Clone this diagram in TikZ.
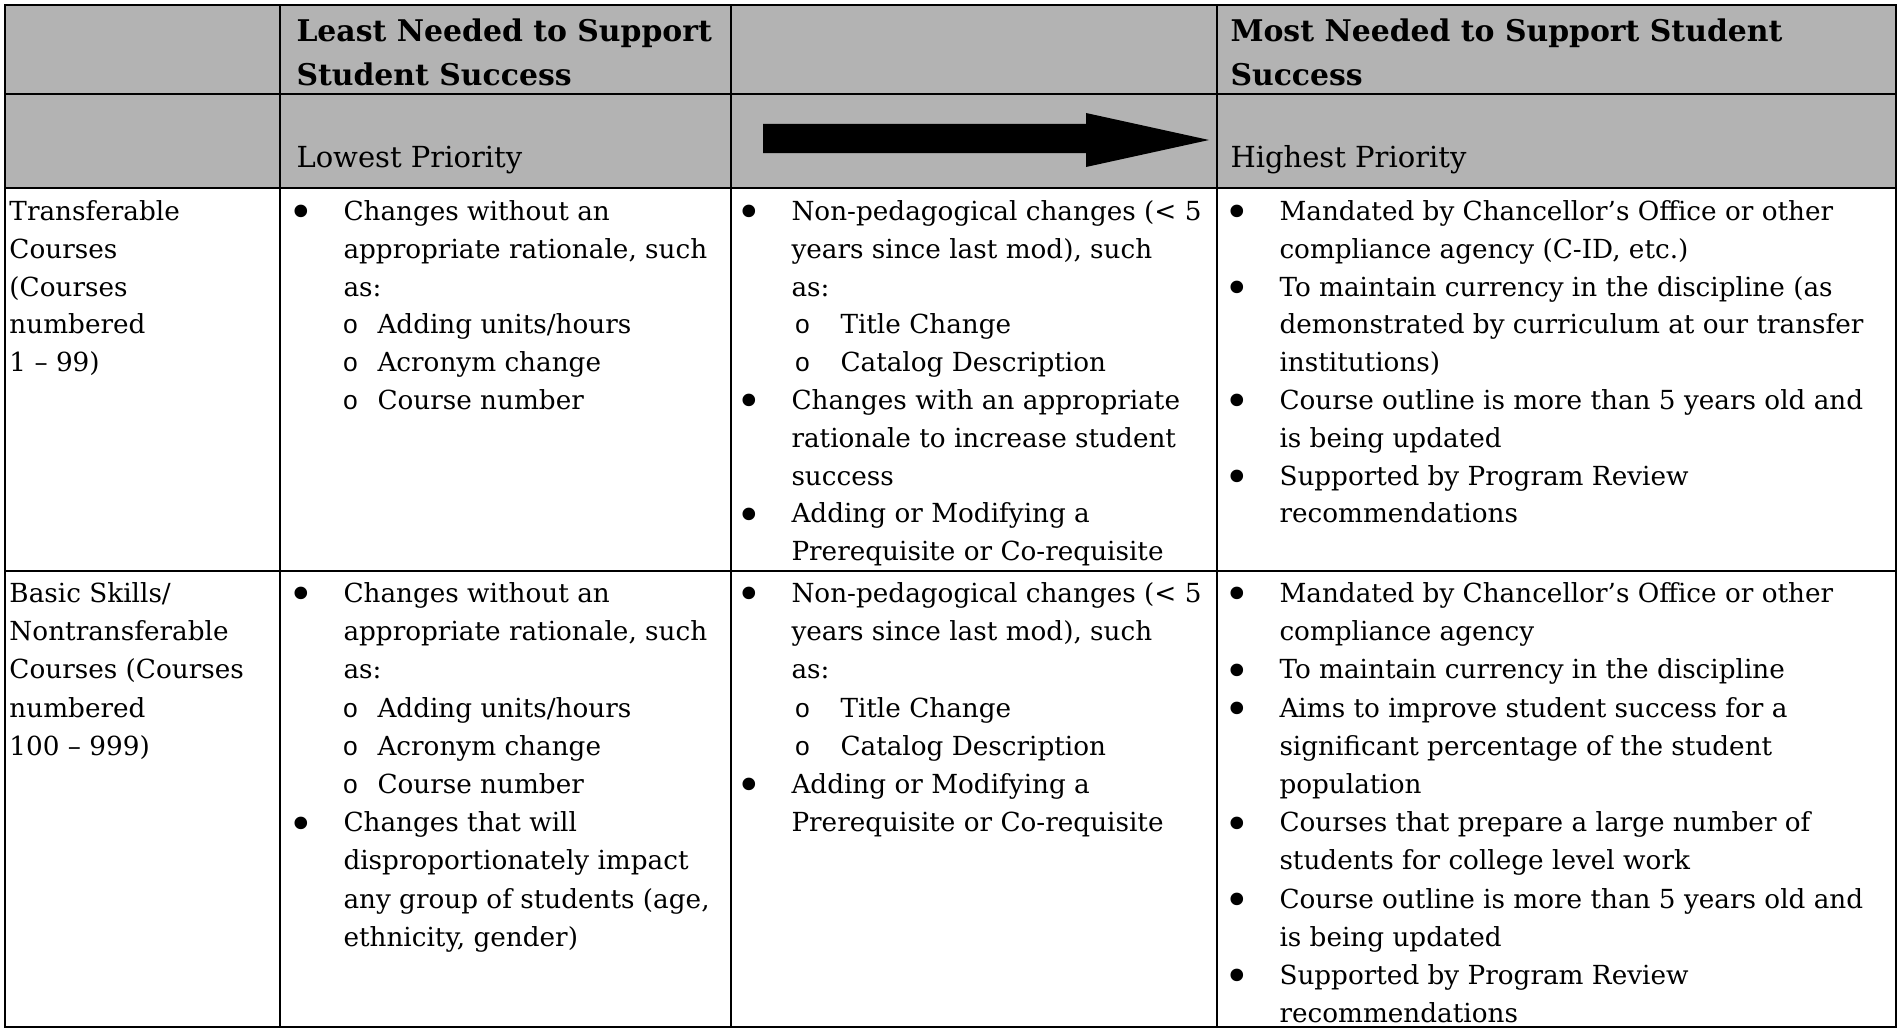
\documentclass[tikz,border=0pt]{standalone}
\usepackage{fontspec}
\setmainfont{DejaVu Serif}
\newfontfamily\circfont{Liberation Mono}
\usepackage{tikz}
\tikzset{every picture/.style={line width=0.75pt}}
\definecolor{hdrgray}{RGB}{179,179,179}
\tikzset{
  celltext/.style={anchor=north west, inner sep=0pt, align=left, font=\fontsize{19.7}{28.65}\selectfont},
  firstrow/.style={celltext, font=\fontsize{19.7}{28.35}\selectfont},
  headtext/.style={anchor=north west, inner sep=0pt, align=left, font=\fontsize{22.4}{33}\selectfont\bfseries},
  priotext/.style={anchor=base west, inner sep=0pt, font=\fontsize{21.75}{30}\selectfont},
  gridline/.style={line width=1.8pt},
}
% bullet hung 42px left of the text, and the two kinds of open-circle subitems
\newcommand{\bul}{\llap{\makebox[0pt]{\smash{\raisebox{-5.5pt}{\scalebox{1.65}{\textbullet}}}}\hspace{31.5pt}}}
\newcommand{\circii}{\makebox[25.5pt][l]{\hspace*{5.25pt}\makebox[0pt]{\circfont o}}}
\newcommand{\circiii}{\makebox[36.75pt][l]{\hspace*{8.25pt}\makebox[0pt]{\circfont o}}}

\begin{document}
\begin{tikzpicture}[x=0.75pt,y=0.75pt,yscale=-1,xscale=1]
\useasboundingbox (0,0) rectangle (1900,1031);

%Shape: Header band
\fill[hdrgray] (5,5) rectangle (1896,188);
%Shape: Grid
\draw[gridline] (5,5) rectangle (1896,1027);
\draw[gridline] (5,94) -- (1896,94);
\draw[gridline] (5,188) -- (1896,188);
\draw[gridline] (5,571) -- (1896,571);
\draw[gridline] (280,5) -- (280,1027);
\draw[gridline] (731,5) -- (731,1027);
\draw[gridline] (1217,5) -- (1217,1027);

%Shape: Priority arrow
\fill (763,124) -- (1086,124) -- (1086,113) -- (1209,140) -- (1086,167) -- (1086,153) -- (763,153) -- cycle;

% Text Node
\node (leastHead) [headtext] at (296,10.2) {\strut Least Needed to Support\\Student Success};
% Text Node
\node (mostHead) [headtext] at (1230,10.2) {\strut Most Needed to Support Student\\Success};
% Text Node
\node (lowPrio) [priotext] at (296,167) {Lowest Priority};
% Text Node
\node (highPrio) [priotext] at (1230,167) {Highest Priority};

% Text Node
\node (transName) [firstrow] at (9,193.5) {\strut Transferable\\Courses\\(Courses\\numbered\\1 -- 99)};
% Text Node
\node (transLeast) [firstrow] at (343,193.5) {\strut\bul Changes without an\\appropriate rationale, such\\as:\\\circii Adding units/hours\\\circii Acronym change\\\circii Course number};
% Text Node
\node (transMid) [firstrow] at (791,193.5) {\strut\bul Non-pedagogical changes (< 5\\years since last mod), such\\as:\\\circiii Title Change\\\circiii Catalog Description\\\bul Changes with an appropriate\\rationale to increase student\\success\\\bul Adding or Modifying a\\Prerequisite or Co-requisite};
% Text Node
\node (transMost) [firstrow] at (1279,193.5) {\strut\bul Mandated by Chancellor's Office or other\\compliance agency (C-ID, etc.)\\\bul To maintain currency in the discipline (as\\demonstrated by curriculum at our transfer\\institutions)\\\bul Course outline is more than 5 years old and\\is being updated\\\bul Supported by Program Review\\recommendations};

% Text Node
\node (basicName) [celltext] at (9,575.3) {\strut Basic Skills/\\Nontransferable\\Courses (Courses\\numbered\\100 -- 999)};
% Text Node
\node (basicLeast) [celltext] at (343,575.3) {\strut\bul Changes without an\\appropriate rationale, such\\as:\\\circii Adding units/hours\\\circii Acronym change\\\circii Course number\\\bul Changes that will\\disproportionately impact\\any group of students (age,\\ethnicity, gender)};
% Text Node
\node (basicMid) [celltext] at (791,575.3) {\strut\bul Non-pedagogical changes (< 5\\years since last mod), such\\as:\\\circiii Title Change\\\circiii Catalog Description\\\bul Adding or Modifying a\\Prerequisite or Co-requisite};
% Text Node
\node (basicMost) [celltext] at (1279,575.3) {\strut\bul Mandated by Chancellor's Office or other\\compliance agency\\\bul To maintain currency in the discipline\\\bul Aims to improve student success for a\\significant percentage of the student\\population\\\bul Courses that prepare a large number of\\students for college level work\\\bul Course outline is more than 5 years old and\\is being updated\\\bul Supported by Program Review\\recommendations};

\end{tikzpicture}
\end{document}
